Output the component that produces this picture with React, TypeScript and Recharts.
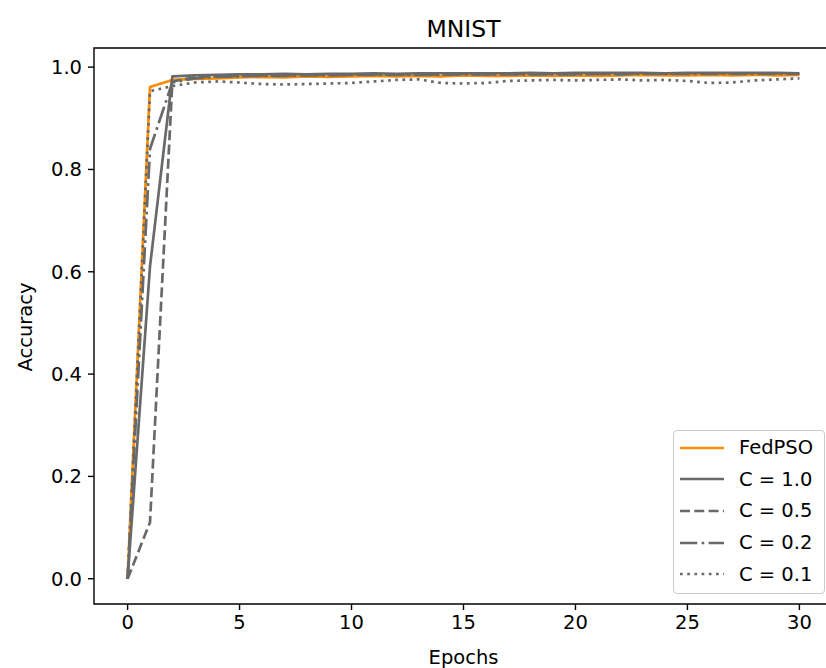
import React from 'react';
import {
    LineChart,
    Line,
    XAxis,
    YAxis,
    ReferenceArea,
} from 'recharts';

// accuracy per epoch
const epochs = [
    0, 1, 2, 3, 4, 5, 6, 7, 8, 9, 10, 11, 12, 13, 14, 15,
    16, 17, 18, 19, 20, 21, 22, 23, 24, 25, 26, 27, 28, 29, 30,
];
const fedpso = [
    0, 0.961, 0.975, 0.977, 0.978, 0.98, 0.981, 0.98, 0.982, 0.981, 0.982, 0.983, 0.982, 0.983, 0.982, 0.984,
    0.983, 0.983, 0.984, 0.983, 0.984, 0.983, 0.984, 0.985, 0.984, 0.984, 0.985, 0.984, 0.985, 0.984, 0.985,
];
const c10 = [
    0, 0.61, 0.982, 0.984, 0.985, 0.986, 0.986, 0.987, 0.986, 0.987, 0.987, 0.988, 0.987, 0.988, 0.988, 0.988,
    0.988, 0.988, 0.989, 0.988, 0.989, 0.989, 0.989, 0.989, 0.988, 0.989, 0.989, 0.989, 0.989, 0.989, 0.988,
];
const c05 = [
    0, 0.11, 0.972, 0.98, 0.982, 0.983, 0.984, 0.984, 0.985, 0.985, 0.985, 0.986, 0.986, 0.986, 0.986, 0.987,
    0.986, 0.987, 0.987, 0.987, 0.987, 0.987, 0.987, 0.988, 0.987, 0.988, 0.988, 0.988, 0.988, 0.988, 0.987,
];
const c02 = [
    0, 0.84, 0.97, 0.978, 0.981, 0.982, 0.983, 0.983, 0.984, 0.984, 0.985, 0.985, 0.985, 0.985, 0.985, 0.986,
    0.986, 0.986, 0.986, 0.986, 0.986, 0.987, 0.986, 0.987, 0.987, 0.987, 0.987, 0.987, 0.987, 0.987, 0.987,
];
const c01 = [
    0, 0.953, 0.963, 0.97, 0.972, 0.97, 0.967, 0.966, 0.967, 0.968, 0.969, 0.972, 0.975, 0.976, 0.969, 0.968,
    0.969, 0.973, 0.974, 0.975, 0.974, 0.975, 0.976, 0.974, 0.975, 0.973, 0.969, 0.97, 0.974, 0.976, 0.978,
];

const xTicks = [0, 5, 10, 15, 20, 25, 30];
const yTicks = [0, 0.2, 0.4, 0.6, 0.8, 1.0];

const X_DOMAIN: [number, number] = [-1.5, 31.5];
const Y_DOMAIN: [number, number] = [-0.0494, 1.0374];

const FONT = '"DejaVu Sans", sans-serif';
const ORANGE = '#ff8c00';
const GRAY = '#696969';

const series = [
    { key: 'fedpso', name: 'FedPSO', color: ORANGE, dash: undefined },
    { key: 'c10', name: 'C = 1.0', color: GRAY, dash: undefined },
    { key: 'c05', name: 'C = 0.5', color: GRAY, dash: '10 4.3' },
    { key: 'c02', name: 'C = 0.2', color: GRAY, dash: '17.3 4.3 2.7 4.3' },
    { key: 'c01', name: 'C = 0.1', color: GRAY, dash: '2.7 4.5' },
];

const data = epochs.map((e, i) => ({
    epoch: e,
    fedpso: fedpso[i],
    c10: c10[i],
    c05: c05[i],
    c02: c02[i],
    c01: c01[i],
}));

const tickStyle = { fontFamily: FONT, fontSize: 19.5, fill: '#000' };

function LegendBox() {
    return (
        <div
            style={{
                position: 'absolute',
                left: 673,
                top: 430,
                width: 152,
                height: 164,
                boxSizing: 'border-box',
                border: '1.4px solid #cccccc',
                borderRadius: 4,
                background: 'rgba(255,255,255,0.8)',
                fontFamily: FONT,
                fontSize: 19.5,
                paddingTop: 1,
            }}
        >
            {series.map((s) => (
                <div
                    key={s.key}
                    style={{ display: 'flex', alignItems: 'center', height: 31.6, paddingLeft: 6 }}
                >
                    <svg width={44} height={10} style={{ marginRight: 15 }}>
                        <line
                            x1={0}
                            y1={5}
                            x2={44}
                            y2={5}
                            stroke={s.color}
                            strokeWidth={2.7}
                            strokeDasharray={s.dash}
                        />
                    </svg>
                    <span>{s.name}</span>
                </div>
            ))}
        </div>
    );
}

export default function App() {
    return (
        <div style={{ position: 'absolute', left: 0, top: 0, width: 826, height: 668, background: '#fff' }}>
            <LineChart
                width={826}
                height={668}
                data={data}
                margin={{ top: 48, right: -7, bottom: 0, left: 0 }}
            >
                <XAxis
                    dataKey="epoch"
                    type="number"
                    domain={X_DOMAIN}
                    ticks={xTicks}
                    height={64}
                    axisLine={false}
                    tickLine={{ stroke: '#000', strokeWidth: 1.4 }}
                    tickSize={6}
                    tickMargin={5}
                    tick={tickStyle}
                    label={{
                        value: 'Epochs',
                        position: 'insideBottom',
                        offset: 4,
                        style: { fontFamily: FONT, fontSize: 19.5, fill: '#000' },
                    }}
                />
                <YAxis
                    type="number"
                    domain={Y_DOMAIN}
                    ticks={yTicks}
                    width={94}
                    axisLine={false}
                    tickLine={{ stroke: '#000', strokeWidth: 1.4 }}
                    tickSize={6}
                    tickMargin={6}
                    tick={tickStyle}
                    tickFormatter={(v: number) => v.toFixed(1)}
                    label={{
                        content: () => (
                            <text
                                x={25}
                                y={327}
                                transform="rotate(-90 25 327)"
                                textAnchor="middle"
                                dominantBaseline="central"
                                style={{ fontFamily: FONT, fontSize: 19.5, fill: '#000' }}
                            >
                                Accuracy
                            </text>
                        ),
                    }}
                />
                {series.map((s) => (
                    <Line
                        key={s.key}
                        type="linear"
                        dataKey={s.key}
                        name={s.name}
                        stroke={s.color}
                        strokeWidth={2.7}
                        strokeDasharray={s.dash}
                        strokeLinejoin="round"
                        dot={false}
                        activeDot={false}
                        isAnimationActive={false}
                    />
                ))}
                <ReferenceArea
                    x1={X_DOMAIN[0]}
                    x2={X_DOMAIN[1]}
                    y1={Y_DOMAIN[0]}
                    y2={Y_DOMAIN[1]}
                    ifOverflow="visible"
                    fill="none"
                    fillOpacity={0}
                    stroke="#000"
                    strokeWidth={1.4}
                    label={{
                        value: 'MNIST',
                        position: 'top',
                        offset: 11,
                        style: { fontFamily: FONT, fontSize: 23.5, fill: '#000' },
                    }}
                />
            </LineChart>
            <LegendBox />
        </div>
    );
}
